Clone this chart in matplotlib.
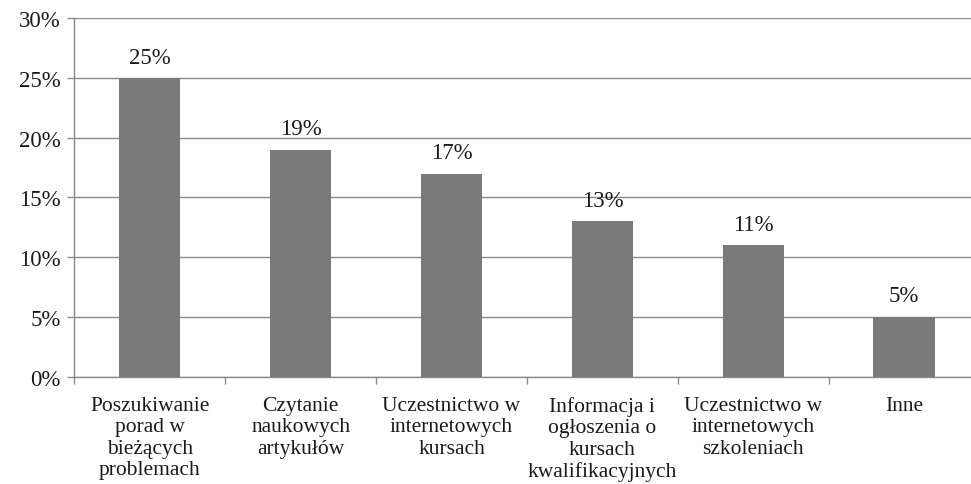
import numpy as np
import matplotlib.pyplot as plt
from matplotlib.ticker import MultipleLocator, FuncFormatter

categories = ["Poszukiwanie\nporad w\nbieżących\nproblemach",
              "Czytanie\nnaukowych\nartykułów",
              "Uczestnictwo w\ninternetowych\nkursach",
              "Informacja i\nogłoszenia o\nkursach\nkwalifikacyjnych",
              "Uczestnictwo w\ninternetowych\nszkoleniach",
              "Inne"]
values = [25, 19, 17, 13, 11, 5]

plt.rcParams['font.family'] = ['Liberation Serif', 'DejaVu Serif']
plt.rcParams['font.size'] = 16

fig = plt.figure(figsize=(9.71, 4.85), dpi=100)
ax = fig.add_axes([0.0767, 0.2216, 0.932, 0.7386])

x = np.arange(len(categories))
ax.bar(x, values, width=0.405, color='#7a7a7a', zorder=3)
for xi, v in zip(x, values):
    ax.text(xi, v + 0.87, f"{v}%", ha='center', va='bottom', fontsize=16.5, color='#1a1a1a')

ax.set_xlim(-0.5, len(categories) - 0.5)
ax.set_ylim(0, 30)
ax.yaxis.set_major_locator(MultipleLocator(5))
ax.yaxis.set_major_formatter(FuncFormatter(lambda v, p: f"{int(v)}%"))
ax.grid(axis='y', color='#8a8a8a', linewidth=1.0, zorder=0)

ax.set_xticks(np.arange(-0.5, len(categories), 1.0))
ax.set_xticklabels([])
ax.set_xticks(x, minor=True)
ax.set_xticklabels(categories, minor=True, fontsize=15.5, linespacing=1.17, color='#1a1a1a')
ax.tick_params(axis='x', which='major', length=5, color='#8a8a8a', width=1)
ax.tick_params(axis='x', which='minor', length=0, pad=14)
ax.tick_params(axis='y', length=5, color='#8a8a8a', width=1, pad=5, labelsize=16.5, labelcolor='#1a1a1a')

for s in ['top', 'right']:
    ax.spines[s].set_visible(False)
for s in ['left', 'bottom']:
    ax.spines[s].set_color('#8a8a8a')
    ax.spines[s].set_linewidth(1)

fig.savefig('out.png', dpi=100)
